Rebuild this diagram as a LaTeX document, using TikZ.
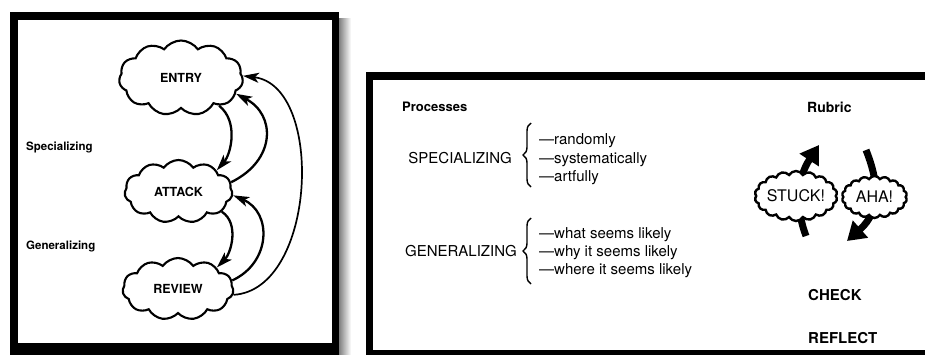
\documentclass[tikz,border=0pt]{standalone}
\usepackage{fontspec}
\setmainfont{TeX Gyre Heros}
\usetikzlibrary{shapes.symbols,arrows.meta,decorations.pathreplacing}
\begin{document}
\begin{tikzpicture}[x=1pt,y=-1pt,
  bigcloud/.style={cloud, cloud puffs=11, cloud puff arc=110, cloud ignores aspect,
    draw, line width=2.1pt, fill=white, inner sep=0pt,
    font=\fontsize{12.5}{14}\selectfont\bfseries},
  smallcloud/.style={cloud, cloud puffs=18, cloud puff arc=120, cloud ignores aspect,
    draw, line width=2.4pt, fill=white, inner sep=0pt,
    font=\fontsize{16}{18}\selectfont},
  flow/.style={line width=2.3pt, -{Stealth[length=16pt,width=10pt,inset=4pt]}},
  flowthin/.style={line width=1.7pt, -{Stealth[length=16pt,width=10pt,inset=4pt]}},
  fatarrow/.style={line width=7pt, -{Triangle[length=18pt,width=22pt]}},
  sidelab/.style={inner sep=0pt, font=\fontsize{11.5}{13}\selectfont\bfseries},
  head/.style={inner sep=0pt, font=\fontsize{13}{15}\selectfont\bfseries},
  caps/.style={inner sep=0pt, font=\fontsize{15}{17}\selectfont},
  item/.style={inner sep=0pt, anchor=base west, font=\fontsize{15}{17}\selectfont},
  rubric/.style={inner sep=0pt, anchor=west, font=\fontsize{15}{17}\selectfont\bfseries},
  bracestyle/.style={line width=1.4pt, decorate, decoration={brace, amplitude=8pt}}
]
\useasboundingbox (0,0) rectangle (925,354);
\begin{scope}
  \clip (0,0) rectangle (925,354);
  \shade[left color=black!50, right color=white] (339,18) rectangle (351,360);
  \fill[black] (10,12) rectangle (339,360);
  \fill[white] (18,20) rectangle (332,343);
  \fill[black] (366,72) rectangle (940,360);
  \fill[white] (373,80) rectangle (940,350);
\end{scope}

% ---------- left panel ----------
\node[bigcloud, minimum width=124pt, minimum height=75pt] (entry) at (181,78) {ENTRY};
\node[bigcloud, minimum width=108pt, minimum height=63pt] (attack) at (178.5,191.5) {ATTACK};
\node[bigcloud, minimum width=111pt, minimum height=62pt] (review) at (178,289) {REVIEW};

\node[sidelab, anchor=base west] (spec) at (26,150) {Specializing};
\node[sidelab, anchor=base west] (gen) at (26,249) {Generalizing};

\draw[flow] (entry.-36) .. controls +(20,16) and +(14,-16) .. (attack.29);
\draw[flow] (attack.10) .. controls +(45,-22) and +(40,21) .. (entry.-16);
\draw[flowthin] (review.-6) .. controls +(83,-5) and +(82,10) .. (entry.2);
\draw[flow] (attack.-25) .. controls +(18,12) and +(14,-14) .. (review.29);
\draw[flow] (review.9) .. controls +(39,-18) and +(39,17) .. (attack.-4);

% ---------- right panel ----------
\node[head, anchor=west] (proc) at (402,107) {Processes};
\node[head, anchor=west, font=\fontsize{14}{16}\selectfont\bfseries] (rub) at (807,107) {Rubric};

\node[caps, anchor=east] (specU) at (512,158) {SPECIALIZING};
\draw[bracestyle] (531,187) -- (531,123);
\node[item] (i1) at (539,144) {—randomly};
\node[item] (i2) at (539,163) {—systematically};
\node[item] (i3) at (539,181) {—artfully};

\node[caps, anchor=east] (genU) at (517,251) {GENERALIZING};
\draw[bracestyle] (531,284) -- (531,218);
\node[item] (j1) at (539,238) {—what seems likely};
\node[item] (j2) at (539,256) {—why it seems likely};
\node[item] (j3) at (539,274) {—where it seems likely};

\coordinate (stuckTail) at (806,236);
\coordinate (stuckTip) at (819,145);
\draw[fatarrow] (stuckTail) .. controls (796,210) and (796,180) .. (stuckTip);
\coordinate (ahaTail) at (866,150);
\coordinate (ahaTip) at (847,241);
\draw[fatarrow] (ahaTail) .. controls (878,180) and (882,210) .. (ahaTip);

\node[smallcloud, minimum width=82pt, minimum height=50pt] (stuck) at (796,196) {STUCK!};
\node[smallcloud, minimum width=65pt, minimum height=42pt] (aha) at (874.5,197) {AHA!};

\node[rubric] (check) at (808,295) {CHECK};
\node[rubric] (reflect) at (808,338) {REFLECT};
\end{tikzpicture}
\end{document}
